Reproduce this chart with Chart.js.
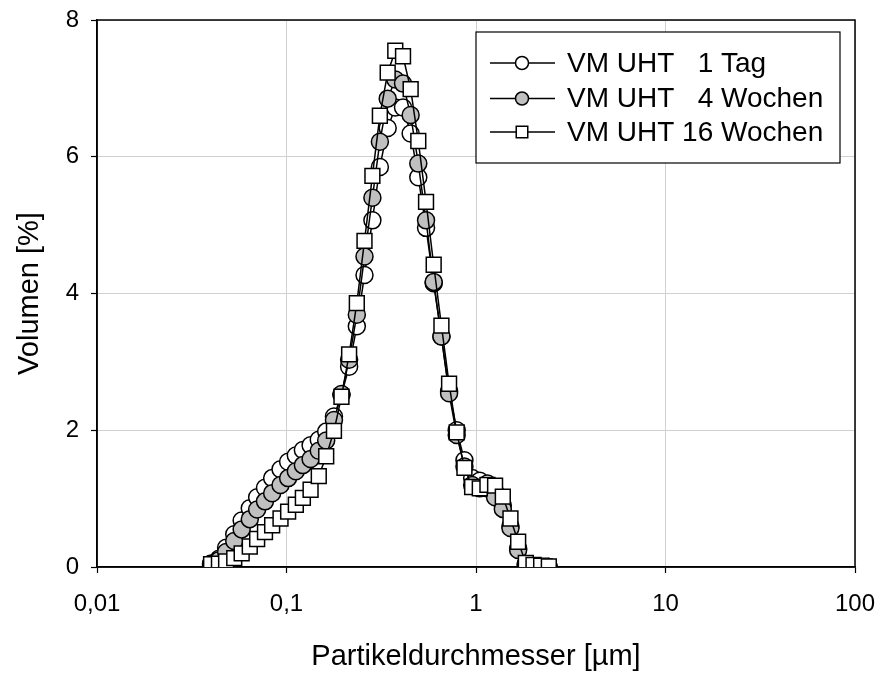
<!DOCTYPE html>
<html><head><meta charset="utf-8">
<script src="https://cdn.jsdelivr.net/npm/chart.js@4/dist/chart.umd.min.js"></script>
<style>html,body{margin:0;padding:0;background:#fff;}</style>
</head><body>
<canvas id="c" width="882" height="675"></canvas>
<script>
// Particle diameter classes [µm]
const diameters = [0.040,0.044,0.048,0.053,0.058,0.064,0.070,0.077,0.084,0.093,0.102,0.112,0.122,0.134,0.148,0.162,0.178,0.195,0.214,0.235,0.258,0.284,0.311,0.342,0.375,0.412,0.452,0.496,0.545,0.598,0.657,0.721,0.791,0.869,0.954,1.047,1.149,1.261,1.385,1.520,1.669,1.832,2.011,2.207,2.423];
// Volume [%]
const vol1Tag = [0.05,0.12,0.28,0.48,0.68,0.86,1.02,1.16,1.30,1.43,1.54,1.63,1.71,1.78,1.86,1.98,2.20,2.52,2.93,3.52,4.27,5.07,5.85,6.42,6.72,6.72,6.34,5.70,4.96,4.15,3.37,2.57,2.00,1.56,1.30,1.26,1.22,1.10,0.90,0.60,0.27,0.04,0.01,0.00,0.00];
const vol4Wochen = [0.04,0.10,0.22,0.38,0.55,0.70,0.84,0.96,1.08,1.20,1.30,1.40,1.49,1.58,1.70,1.85,2.15,2.53,3.03,3.69,4.54,5.40,6.22,6.85,7.13,7.07,6.61,5.90,5.07,4.17,3.37,2.54,1.93,1.47,1.20,1.15,1.15,1.02,0.85,0.57,0.25,0.04,0.01,0.00,0.00];
const vol16Wochen = [0.04,0.05,0.08,0.13,0.20,0.30,0.41,0.51,0.61,0.71,0.81,0.91,1.01,1.13,1.33,1.62,1.99,2.49,3.11,3.86,4.77,5.72,6.60,7.23,7.55,7.47,6.99,6.23,5.34,4.42,3.53,2.68,1.97,1.45,1.17,1.15,1.20,1.19,1.03,0.71,0.37,0.06,0.03,0.02,0.01];
const seriesLabels = ['VM UHT   1 Tag','VM UHT   4 Wochen','VM UHT 16 Wochen'];
const xTickValues = [0.01,0.1,1,10,100];
const xTickLabels = ['0,01','0,1','1','10','100'];
const yTickValues = [0,2,4,6,8];
const xTitle = 'Partikeldurchmesser [µm]';
const yTitle = 'Volumen [%]';

const FONT = 'Liberation Sans, Arial, sans-serif';
const toXY = arr => diameters.map((d,i)=>({x:d,y:arr[i]}));

const styles = [
  {pointStyle:'circle', pointRadius:8.5, bg:'#ffffff', lr:6.5},
  {pointStyle:'circle', pointRadius:8.5, bg:'#c0c0c0', lr:6.5},
  {pointStyle:'rect', pointRadius:10.5, bg:'#ffffff', lr:8}
];
const series = [vol1Tag, vol4Wochen, vol16Wochen];

const datasets = series.map((arr,k)=>({
  label: seriesLabels[k],
  data: toXY(arr),
  order: 3-k,
  borderColor:'#000', borderWidth:1.5, tension:0,
  pointStyle: styles[k].pointStyle,
  pointRadius: styles[k].pointRadius,
  pointHoverRadius: styles[k].pointRadius,
  pointBackgroundColor: styles[k].bg,
  pointBorderColor:'#000', pointBorderWidth:1.5,
  fill:false
}));

const framePlugin = {
  id:'frame',
  beforeDatasetsDraw(chart){
    const {ctx, chartArea:a} = chart;
    ctx.save();
    ctx.strokeStyle='#000'; ctx.lineWidth=1.5;
    ctx.strokeRect(a.left, a.top, a.right-a.left, a.bottom-a.top);
    ctx.restore();
  }
};

const legendPlugin = {
  id:'customLegend',
  afterDraw(chart){
    const ctx = chart.ctx;
    ctx.save();
    const bx=476, by=32, bw=364, bh=131;
    ctx.fillStyle='#fff'; ctx.fillRect(bx,by,bw,bh);
    ctx.strokeStyle='#000'; ctx.lineWidth=1.2; ctx.strokeRect(bx,by,bw,bh);
    const rows=[63,98.5,132];
    ctx.font='28px '+FONT;
    ctx.textBaseline='middle'; ctx.textAlign='left';
    rows.forEach((y,k)=>{
      ctx.strokeStyle='#000'; ctx.lineWidth=1.5;
      ctx.beginPath(); ctx.moveTo(490,y); ctx.lineTo(555,y); ctx.stroke();
      ctx.fillStyle=styles[k].bg;
      ctx.beginPath();
      if(styles[k].pointStyle==='circle'){ ctx.arc(522,y,styles[k].lr,0,Math.PI*2); }
      else { const s=styles[k].lr*0.72; ctx.rect(522-s,y-s,2*s,2*s); }
      ctx.fill(); ctx.stroke();
      ctx.fillStyle='#000';
      ctx.fillText(seriesLabels[k],567,y+1);
    });
    ctx.restore();
  }
};

function zeroPad(s){ s.paddingTop=0; s.paddingBottom=0; s.paddingLeft=0; s.paddingRight=0; }

new Chart(document.getElementById('c'),{
  type:'line',
  data:{datasets},
  options:{
    responsive:false, animation:false, devicePixelRatio:1,
    layout:{padding:{left:0,top:20,right:27,bottom:0}},
    plugins:{legend:{display:false}, tooltip:{enabled:false}},
    scales:{
      x:{
        type:'logarithmic', min:0.01, max:100,
        afterBuildTicks(s){ s.ticks = xTickValues.map(v=>({value:v})); },
        afterFit(s){ s.height = 108; zeroPad(s); },
        grid:{color:'#d0d0d0', lineWidth:1, tickColor:'#000', tickLength:6, tickWidth:1.2},
        border:{color:'#000', width:1.5},
        ticks:{
          autoSkip:false, maxRotation:0, padding:17, color:'#000',
          font:{family:FONT, size:24},
          callback(v){ const i = xTickValues.findIndex(t=>Math.abs(t-v)<1e-9); return i>=0 ? xTickLabels[i] : ''; }
        },
        title:{display:true, text:xTitle, color:'#000', font:{family:FONT,size:29}, padding:{top:0,bottom:1}}
      },
      y:{
        type:'linear', min:0, max:8,
        afterBuildTicks(s){ s.ticks = yTickValues.map(v=>({value:v})); },
        afterFit(s){ s.width = 97; zeroPad(s); },
        grid:{color:'#d0d0d0', lineWidth:1, tickColor:'#000', tickLength:6, tickWidth:1.2},
        border:{color:'#000', width:1.5},
        ticks:{padding:12, color:'#000', font:{family:FONT, size:24}, callback(v){ return String(v); }},
        title:{display:true, text:yTitle, color:'#000', font:{family:FONT,size:29}, padding:{top:13,bottom:0}}
      }
    }
  },
  plugins:[framePlugin, legendPlugin]
});
</script>
</body></html>
